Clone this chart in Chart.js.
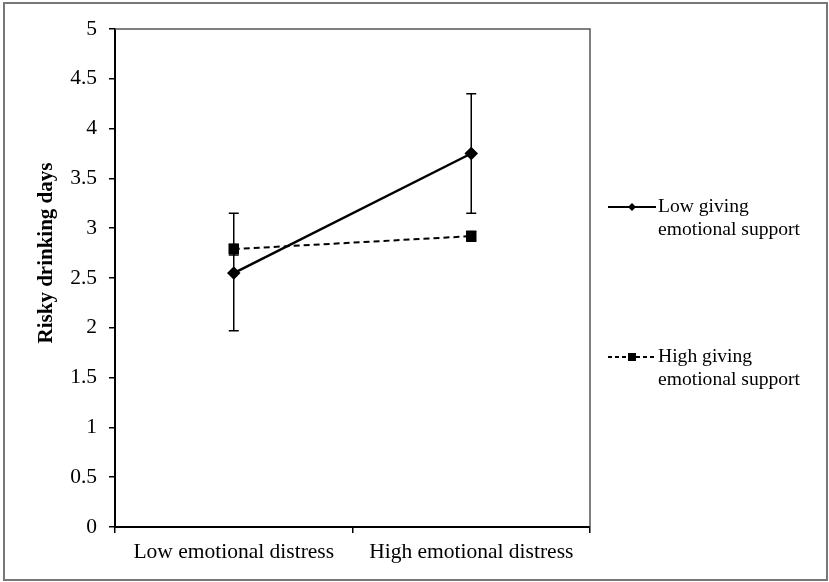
<!DOCTYPE html>
<html>
<head>
<meta charset="utf-8">
<script src="https://cdn.jsdelivr.net/npm/chart.js@4"></script>
<style>
  html, body { margin: 0; padding: 0; background: #fff; }
  #wrap { width: 829px; height: 582px; position: relative; }
</style>
</head>
<body>
<div id="wrap"><canvas id="chart" width="829" height="582"></canvas></div>
<script>
const categories = ["Low emotional distress", "High emotional distress"];
const seriesNames = [["Low giving", "emotional support"], ["High giving", "emotional support"]];
const yTitle = "Risky drinking days";
const lowGiving = [2.55, 3.75];
const lowGivingErrLow = [1.97, 3.15];
const lowGivingErrHigh = [3.15, 4.35];
const highGiving = [2.79, 2.92];
const highGivingErrLow = [2.73, 2.87];
const highGivingErrHigh = [2.84, 2.97];
const yTicks = [0, 0.5, 1, 1.5, 2, 2.5, 3, 3.5, 4, 4.5, 5];

const serif = "'Liberation Serif', 'Times New Roman', serif";

// error bars with caps, drawn through the chart scales
const errorBars = {
  id: "errorBars",
  afterDatasetsDraw(chart) {
    const { ctx, scales: { x, y } } = chart;
    const sets = [[lowGivingErrLow, lowGivingErrHigh], [highGivingErrLow, highGivingErrHigh]];
    ctx.save();
    ctx.strokeStyle = "#000";
    ctx.lineWidth = 1.5;
    sets.forEach(([lo, hi]) => {
      lo.forEach((v, i) => {
        const px = x.getPixelForValue(i);
        const y1 = y.getPixelForValue(v);
        const y2 = y.getPixelForValue(hi[i]);
        ctx.beginPath();
        ctx.moveTo(px, y1); ctx.lineTo(px, y2);
        ctx.moveTo(px - 5, y1); ctx.lineTo(px + 5, y1);
        ctx.moveTo(px - 5, y2); ctx.lineTo(px + 5, y2);
        ctx.stroke();
      });
    });
    ctx.restore();
  }
};

// frame of plot area + outer border + y title + legend on the right
const frame = {
  id: "frame",
  beforeDatasetsDraw(chart) {
    const { ctx, chartArea: a } = chart;
    ctx.save();
    ctx.strokeStyle = "#555";
    ctx.lineWidth = 1.5;
    ctx.beginPath();
    ctx.moveTo(a.left, a.top); ctx.lineTo(a.right, a.top); ctx.lineTo(a.right, a.bottom);
    ctx.stroke();
    ctx.strokeStyle = "#777";
    ctx.lineWidth = 2;
    ctx.strokeRect(4, 3, 823, 577);
    ctx.restore();
  },
  afterDraw(chart) {
    const { ctx } = chart;
    ctx.save();
    ctx.translate(47, 253);
    ctx.rotate(-Math.PI / 2);
    ctx.font = "bold 21px " + serif;
    ctx.fillStyle = "#000";
    ctx.textAlign = "center";
    ctx.textBaseline = "middle";
    ctx.fillText(yTitle, 0, 0);
    ctx.restore();

    const entries = [
      { y: 207, dash: [], shape: "diamond", names: seriesNames[0] },
      { y: 357, dash: [4, 3], shape: "square", names: seriesNames[1] }
    ];
    ctx.save();
    entries.forEach(e => {
      ctx.strokeStyle = "#000";
      ctx.lineWidth = 2;
      ctx.setLineDash(e.dash);
      ctx.beginPath();
      ctx.moveTo(608, e.y); ctx.lineTo(656, e.y);
      ctx.stroke();
      ctx.setLineDash([]);
      ctx.fillStyle = "#000";
      if (e.shape === "diamond") {
        ctx.beginPath();
        ctx.moveTo(632, e.y - 4); ctx.lineTo(636, e.y); ctx.lineTo(632, e.y + 4); ctx.lineTo(628, e.y);
        ctx.closePath(); ctx.fill();
      } else {
        ctx.fillRect(628, e.y - 4, 8, 8);
      }
      ctx.font = "19.6px " + serif;
      ctx.textBaseline = "middle";
      ctx.fillText(e.names[0], 658, e.y);
      ctx.fillText(e.names[1], 658, e.y + 23);
    });
    ctx.restore();
  }
};

new Chart(document.getElementById("chart"), {
  type: "line",
  data: {
    labels: categories,
    datasets: [
      {
        label: seriesNames[0].join(" "),
        data: lowGiving,
        borderColor: "#000",
        backgroundColor: "#000",
        borderWidth: 2.5,
        pointStyle: "rectRot",
        pointRadius: 5,
        tension: 0
      },
      {
        label: seriesNames[1].join(" "),
        data: highGiving,
        borderColor: "#000",
        backgroundColor: "#000",
        borderWidth: 2,
        borderDash: [6, 4],
        pointStyle: "rect",
        pointRadius: 6,
        tension: 0
      }
    ]
  },
  options: {
    responsive: false,
    animation: false,
    layout: { padding: { top: 29, right: 239, bottom: 0, left: 0 } },
    plugins: { legend: { display: false }, tooltip: { enabled: false } },
    scales: {
      x: {
        offset: true,
        grid: { offset: true, drawOnChartArea: false, tickLength: 6, color: "#000", lineWidth: 1.5 },
        border: { color: "#000", width: 2 },
        ticks: { color: "#000", font: { family: serif, size: 21.5 }, padding: 6, maxRotation: 0 },
        afterFit(s) { s.height = 55; }
      },
      y: {
        min: 0,
        max: 5,
        afterBuildTicks(s) { s.ticks = yTicks.map(v => ({ value: v })); },
        grid: { drawOnChartArea: false, tickLength: 6, color: "#000", lineWidth: 1.5 },
        border: { color: "#000", width: 2 },
        ticks: { color: "#000", font: { family: serif, size: 21.5 }, padding: 12, callback: v => String(v) },
        afterFit(s) { s.width = 115; }
      }
    }
  },
  plugins: [errorBars, frame]
});
</script>
</body>
</html>
